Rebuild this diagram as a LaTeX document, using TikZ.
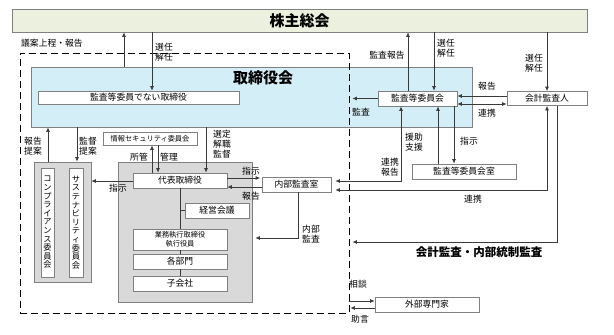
\documentclass[tikz,border=0pt]{standalone}
\usepackage{fontspec}
\setmainfont{Noto Sans CJK JP}
\usetikzlibrary{arrows.meta}
\definecolor{kgreen}{HTML}{EBF1DE}
\definecolor{kblue}{HTML}{D4EEF8}
\definecolor{kgray}{HTML}{D9D9D9}
\definecolor{kline}{HTML}{3A3A3A}
\definecolor{kborder}{HTML}{808080}
\begin{document}
\begin{tikzpicture}[x=1pt,y=-1pt,
 box/.style={draw=kborder,fill=white,line width=0.7pt,inner sep=0pt,font=\fontsize{8.8}{10}\selectfont},
 smallbox/.style={box,font=\fontsize{7.2}{8.6}\selectfont,align=center},
 vbox/.style={box,font=\fontsize{8.2}{8.6}\selectfont,align=center},
 grp/.style={draw=kborder,fill=kgray,line width=0.7pt,inner sep=0pt},
 arr/.style={draw=kline,line width=0.7pt,-{Latex[length=4.5pt,width=4pt]}},
 darr/.style={draw=kline,line width=0.7pt,{Latex[length=4.5pt,width=4pt]}-{Latex[length=4.5pt,width=4pt]}},
 plain/.style={draw=kline,line width=0.7pt},
 lbl/.style={inner sep=0pt,font=\fontsize{8.8}{10.3}\selectfont,align=center},
]
\useasboundingbox (0,0) rectangle (614,335);
\fill[white] (0,0) rectangle (614,335);

% main containers
\node[draw=kborder,fill=kgreen,line width=0.7pt,inner sep=0pt,minimum width=575pt,minimum height=23pt,font=\fontsize{15}{18}\selectfont\bfseries] (kabu) at (299.5,20.5) {株主総会};
\node[draw=kborder,fill=kblue,line width=0.7pt,inner sep=0pt,minimum width=441pt,minimum height=60pt] (board) at (251.5,97) {};
\node[inner sep=0pt,font=\fontsize{15}{18}\selectfont\bfseries] (boardtitle) at (263,78) {取締役会};
\node[draw=black,line width=0.8pt,dash pattern=on 7pt off 4pt,inner sep=0pt,minimum width=329pt,minimum height=260pt] (scope) at (184.5,183) {};

% boxes
\node[box,minimum width=201pt,minimum height=13pt] (ntd) at (138.5,97.5) {監査等委員でない取締役};
\node[box,minimum width=79pt,minimum height=15pt] (acm) at (417.5,98.5) {監査等委員会};
\node[box,minimum width=80pt,minimum height=14pt] (auditor) at (547,98.5) {会計監査人};
\node[box,minimum width=104pt,minimum height=15pt] (acroom) at (464,171.5) {監査等委員会室};
\node[box,minimum width=69pt,minimum height=15pt] (iad) at (296.5,184.5) {内部監査室};
\node[smallbox,minimum width=94pt,minimum height=13pt] (info) at (150,138.5) {情報セキュリティ委員会};
\node[grp,minimum width=134pt,minimum height=140pt] (exec) at (185,232) {};
\node[grp,minimum width=57pt,minimum height=120pt] (compgrp) at (62.5,222) {};
\node[vbox,minimum width=13pt,minimum height=109pt] (comp) at (47.5,222.5) {コ\\ン\\プ\\ラ\\イ\\ア\\ン\\ス\\委\\員\\会};
\node[vbox,minimum width=14pt,minimum height=109pt] (sust) at (76,222.5) {サ\\ス\\テ\\ナ\\ビ\\リ\\テ\\ィ\\委\\員\\会};
\node[box,minimum width=94pt,minimum height=15pt] (ceo) at (180,180.5) {代表取締役};
\node[box,minimum width=64pt,minimum height=15pt] (mgmt) at (217,210.5) {経営会議};
\node[smallbox,minimum width=94pt,minimum height=21pt] (exo) at (180,239.5) {業務執行取締役\\執行役員};
\node[box,minimum width=94pt,minimum height=15pt] (dept) at (180,261.5) {各部門};
\node[box,minimum width=94pt,minimum height=15pt] (sub) at (180,283.5) {子会社};
\node[box,minimum width=104pt,minimum height=15pt] (expert) at (427,304.5) {外部専門家};

% executive tree
\draw[plain] (ceo.south) -- (exo.north);
\draw[plain] (exo.south) -- (dept.north);
\draw[plain] (dept.south) -- (sub.north);
\draw[plain] (ceo.south |- mgmt.west) -- (mgmt.west);

% shareholders meeting links
\draw[arr] (124,0 |- board.north) -- (124,0 |- kabu.south);
\node[lbl,anchor=west] (lA) at (21,43) {議案上程・報告};
\draw[arr] (152,0 |- kabu.south) -- (152,0 |- ntd.north);
\node[lbl,anchor=west] (lB) at (155,52) {選任\\解任};
\draw[arr] (408,0 |- acm.north) -- (408,0 |- kabu.south);
\node[lbl] (lC) at (387,55) {監査報告};
\draw[arr] (434,0 |- kabu.south) -- (434,0 |- acm.north);
\node[lbl,anchor=west] (lD) at (437,48) {選任\\解任};
\draw[arr] (auditor.north |- kabu.south) -- (auditor.north);
\node[lbl] (lE) at (534,63) {選任\\解任};

% audit committee links
\draw[arr] (auditor.west |- 0,96) -- (acm.east |- 0,96);
\node[lbl] (lF) at (487,86) {報告};
\draw[darr] (acm.east |- 0,104) -- (auditor.west |- 0,104);
\node[lbl] (lG) at (487,113) {連携};
\draw[arr,shorten >=3pt] (acm.west) -- (scope.east |- acm.west);
\node[lbl] (lH) at (361,112) {監査};
\draw[darr,shorten <=4pt] (iad.east |- 0,181) -| (401,0 |- acm.south);
\node[lbl] (lI) at (390,167) {連携\\報告};
\node[lbl] (lJ) at (414,142.5) {援助\\支援};
\draw[darr,shorten <=4pt] (iad.east |- 0,190) -| (547,0 |- auditor.south);
\node[lbl] (lK) at (473,199) {連携};
\draw[arr] (438,0 |- acroom.north) -- (438,0 |- acm.south);
\draw[arr] (454,0 |- acm.south) -- (454,0 |- acroom.north);
\node[lbl] (lL) at (469,141) {指示};
\draw[arr,shorten >=3pt] (557,0 |- auditor.south) |- (scope.east |- 0,242);
\node[inner sep=0pt,font=\fontsize{11.5}{14}\selectfont\bfseries] (lM) at (479,252) {会計監査・内部統制監査};
\draw[arr] (scope.east |- 0,301) -- (expert.west |- 0,301);
\node[lbl] (lN) at (358,284) {相談};
\draw[arr,shorten >=1pt] (expert.west |- 0,308) -- (scope.east |- 0,308);
\node[lbl] (lO) at (360,319) {助言};

% board / committees
\draw[arr] (48,0 |- compgrp.north) -- (48,0 |- board.south);
\node[lbl] (lP) at (33,146) {報告\\提案};
\draw[arr] (77,0 |- board.south) -- (77,0 |- compgrp.north);
\node[lbl] (lQ) at (88,146) {監督\\提案};
\draw[arr] (152,0 |- ceo.north) -- (152,0 |- info.south);
\node[lbl] (lR) at (139,157) {所管};
\draw[arr] (158,0 |- info.south) -- (158,0 |- ceo.north);
\node[lbl] (lS) at (169,157) {管理};
\draw[arr] (206,0 |- board.south) -- (206,0 |- ceo.north);
\node[lbl] (lT) at (222,144) {選定\\解職\\監督};
\draw[arr] (ceo.west |- 0,181) -- (compgrp.east |- 0,181);
\node[lbl] (lU) at (118,188) {指示};
\draw[arr,shorten >=1.5pt] (ceo.east |- 0,178) -- (iad.west |- 0,178);
\node[lbl] (lV) at (251,171) {指示};
\draw[arr] (iad.west |- 0,187) -- (ceo.east |- 0,187);
\node[lbl] (lW) at (251,196) {報告};
\draw[arr,shorten >=3pt] (298,0 |- iad.south) |- (exec.east |- 0,238);
\node[lbl] (lX) at (311,234) {内部\\監査};
\end{tikzpicture}
\end{document}
